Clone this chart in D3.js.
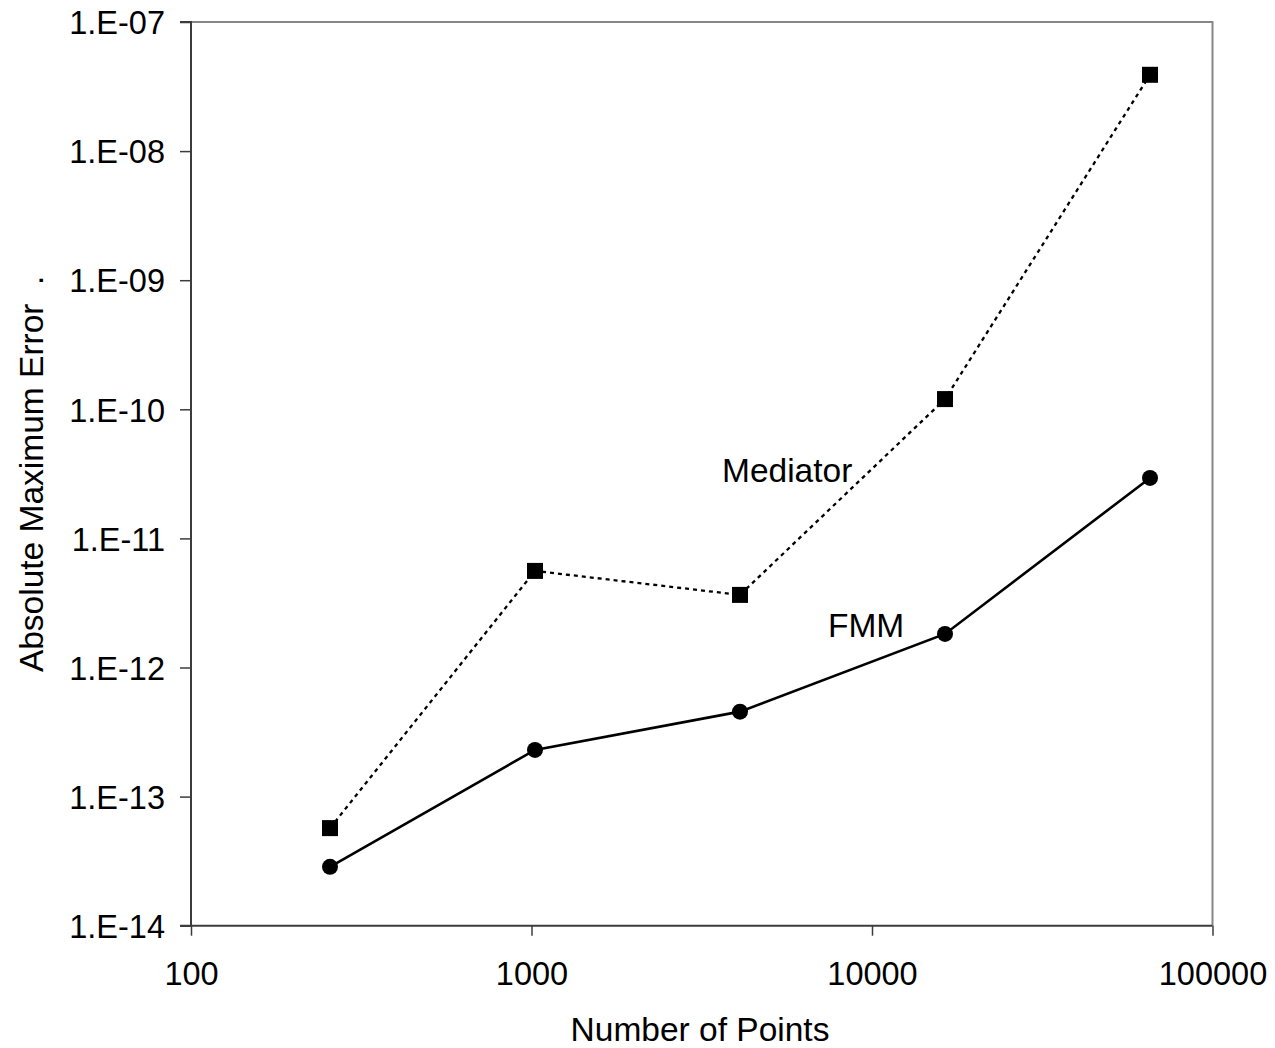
<!DOCTYPE html>
<html><head><meta charset="utf-8">
<script src="https://cdn.jsdelivr.net/npm/d3@7"></script>
<style>
body{margin:0;background:#fff}
text{font-family:"Liberation Sans",Arial,sans-serif}
</style>
</head><body><svg id="chart" width="1275" height="1048"></svg>
<script>
// ---- data ----
const pointCounts   = [256, 1024, 4096, 16384, 65536];
const mediatorError = [5.7e-14, 5.6e-12, 3.65e-12, 1.2e-10, 3.9e-8];
const fmmError      = [2.86e-14, 2.3e-13, 4.55e-13, 1.82e-12, 2.94e-11];
const xTicks        = [100, 1000, 10000, 100000];
const xTickLabels   = ["100", "1000", "10000", "100000"];
const yTicks        = [1e-14, 1e-13, 1e-12, 1e-11, 1e-10, 1e-9, 1e-8, 1e-7];
const yTickLabels   = ["1.E-14","1.E-13","1.E-12","1.E-11","1.E-10","1.E-09","1.E-08","1.E-07"];
const seriesNames   = ["Mediator", "FMM"];
const xTitle = "Number of Points";
const yTitle = "Absolute Maximum Error \u00a0.";

// ---- layout ----
const svg = d3.select("#chart");
const L = 191, R = 1212.5, T = 22, B = 925.7;
const x = d3.scaleLog().domain([100, 100000]).range([L, R]);
const y = d3.scaleLog().domain([1e-14, 1e-7]).range([B, T]);
const axisColor = "#3c3c3c";
const tickFont = "32.5px";
const labelFont = 33.5;

// frame (top/right gray)
svg.append("path")
  .attr("d", `M${L},${T}H${R}V${B}`)
  .attr("fill", "none").attr("stroke", "#868686").attr("stroke-width", 2);

// y axis
const gy = svg.append("g").attr("transform", `translate(${L},0)`)
  .call(d3.axisLeft(y).tickValues(yTicks)
    .tickFormat((d, i) => yTickLabels[i]).tickSize(11).tickPadding(15));
// x axis
const gx = svg.append("g").attr("transform", `translate(0,${B})`)
  .call(d3.axisBottom(x).tickValues(xTicks)
    .tickFormat((d, i) => xTickLabels[i]).tickSize(10).tickPadding(26));
[gx, gy].forEach(g => {
  g.select(".domain").attr("stroke", axisColor).attr("stroke-width", 2);
  g.selectAll(".tick line").attr("stroke", axisColor).attr("stroke-width", 1.5);
  g.selectAll(".tick text").attr("fill", "#000")
    .style("font-family", '"Liberation Sans",Arial,sans-serif').style("font-size", tickFont);
});
gy.selectAll(".tick text").attr("dy", "0.36em");
gy.select(".domain").attr("d", `M-11,${T}H0V${B}H-11`);
gx.select(".domain").attr("d", `M${L},0H${R}`);

// lines
const mediatorData = pointCounts.map((p, i) => [p, mediatorError[i]]);
const fmmData = pointCounts.map((p, i) => [p, fmmError[i]]);
const line = d3.line().x(d => x(d[0])).y(d => y(d[1]));

svg.append("path").datum(mediatorData).attr("d", line)
  .attr("fill", "none").attr("stroke", "#000").attr("stroke-width", 2.3)
  .attr("stroke-dasharray", "4,4");
svg.append("path").datum(fmmData).attr("d", line)
  .attr("fill", "none").attr("stroke", "#000").attr("stroke-width", 2.6);

// markers
svg.selectAll("rect.med").data(mediatorData).enter().append("rect")
  .attr("class", "med")
  .attr("x", d => x(d[0]) - 8).attr("y", d => y(d[1]) - 8)
  .attr("width", 16).attr("height", 16).attr("fill", "#000");
svg.selectAll("circle.fmm").data(fmmData).enter().append("circle")
  .attr("class", "fmm")
  .attr("cx", d => x(d[0])).attr("cy", d => y(d[1])).attr("r", 8).attr("fill", "#000");

// series labels
svg.append("text").attr("x", 722).attr("y", 482).attr("font-size", labelFont)
  .attr("fill", "#000").text(seriesNames[0]);
svg.append("text").attr("x", 828).attr("y", 637).attr("font-size", labelFont)
  .attr("fill", "#000").text(seriesNames[1]);

// axis titles
svg.append("text").attr("x", 700).attr("y", 1041).attr("text-anchor", "middle")
  .attr("font-size", labelFont).attr("fill", "#000").text(xTitle);
svg.append("text").attr("transform", `translate(43,${(T + B) / 2}) rotate(-90)`)
  .attr("text-anchor", "middle").attr("font-size", labelFont).attr("fill", "#000").text(yTitle);
</script>
</body></html>
